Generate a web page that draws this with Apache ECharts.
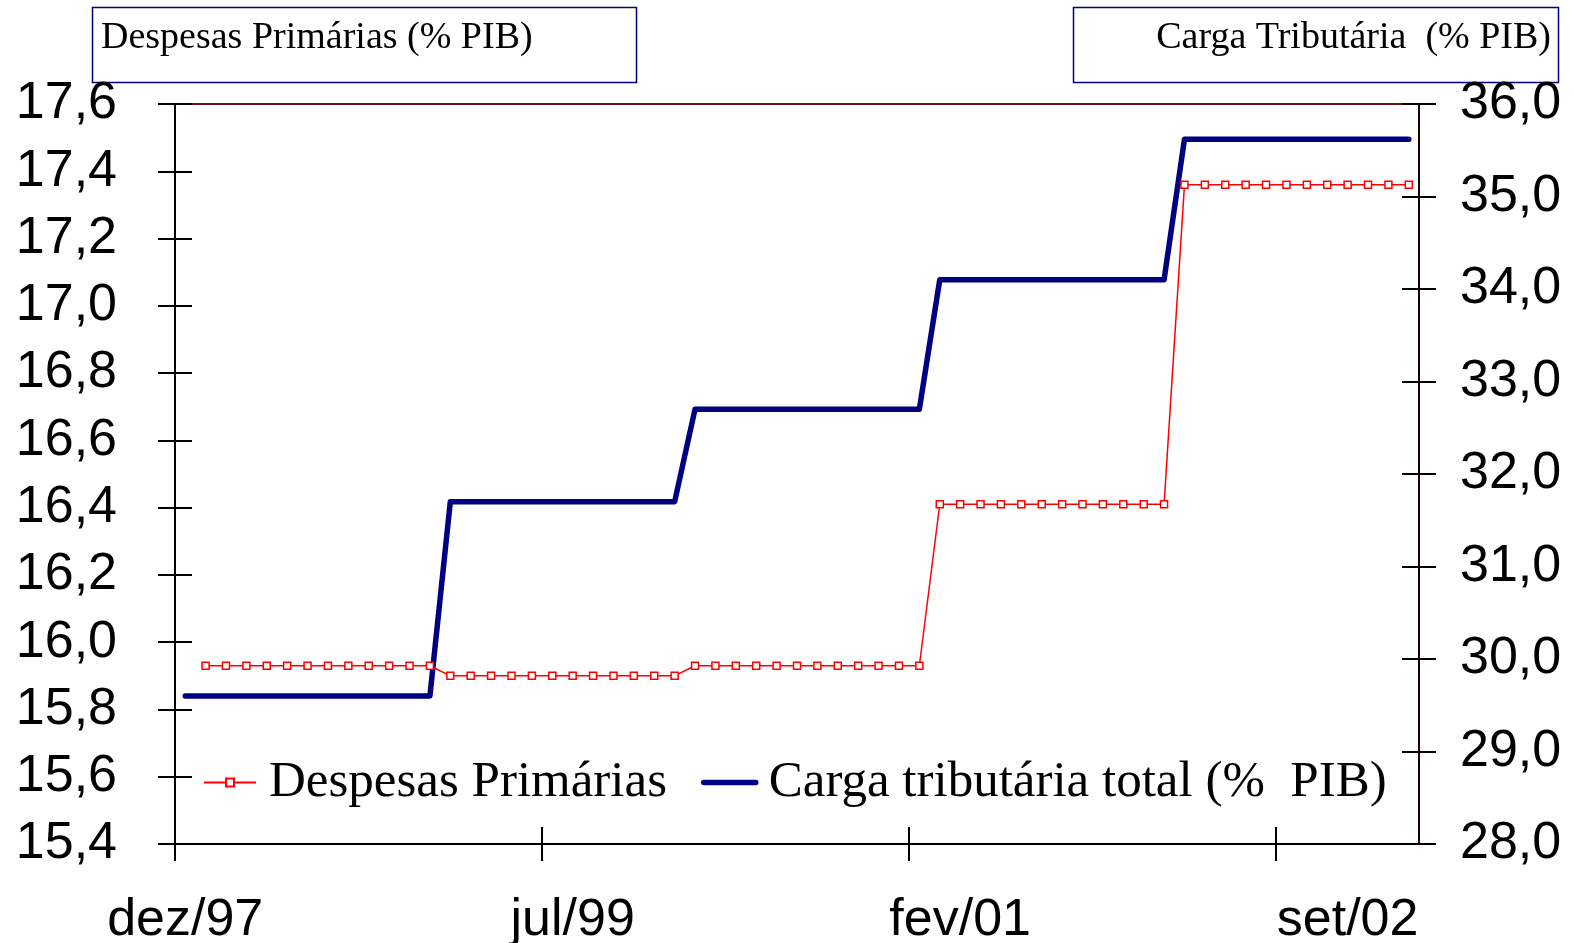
<!DOCTYPE html>
<html><head><meta charset="utf-8">
<script src="https://cdn.jsdelivr.net/npm/echarts@6/dist/echarts.min.js"></script>
<style>html,body{margin:0;padding:0;background:#fff}#c{width:1574px;height:943px}</style>
</head><body><div id="c"></div>
<script>
const categories = [
  'dez/97',
  'jan/98','fev/98','mar/98','abr/98','mai/98','jun/98','jul/98','ago/98','set/98','out/98','nov/98','dez/98',
  'jan/99','fev/99','mar/99','abr/99','mai/99','jun/99','jul/99','ago/99','set/99','out/99','nov/99','dez/99',
  'jan/00','fev/00','mar/00','abr/00','mai/00','jun/00','jul/00','ago/00','set/00','out/00','nov/00','dez/00',
  'jan/01','fev/01','mar/01','abr/01','mai/01','jun/01','jul/01','ago/01','set/01','out/01','nov/01','dez/01',
  'jan/02','fev/02','mar/02','abr/02','mai/02','jun/02','jul/02','ago/02','set/02','out/02','nov/02','dez/02'
];
const despesasPrimarias = [
  null,
  15.93,15.93,15.93,15.93,15.93,15.93,15.93,15.93,15.93,15.93,15.93,15.93,
  15.90,15.90,15.90,15.90,15.90,15.90,15.90,15.90,15.90,15.90,15.90,15.90,
  15.93,15.93,15.93,15.93,15.93,15.93,15.93,15.93,15.93,15.93,15.93,15.93,
  16.41,16.41,16.41,16.41,16.41,16.41,16.41,16.41,16.41,16.41,16.41,16.41,
  17.36,17.36,17.36,17.36,17.36,17.36,17.36,17.36,17.36,17.36,17.36,17.36
];
const cargaTributaria = [
  29.6,
  29.6,29.6,29.6,29.6,29.6,29.6,29.6,29.6,29.6,29.6,29.6,29.6,
  31.7,31.7,31.7,31.7,31.7,31.7,31.7,31.7,31.7,31.7,31.7,31.7,
  32.7,32.7,32.7,32.7,32.7,32.7,32.7,32.7,32.7,32.7,32.7,32.7,
  34.1,34.1,34.1,34.1,34.1,34.1,34.1,34.1,34.1,34.1,34.1,34.1,
  35.62,35.62,35.62,35.62,35.62,35.62,35.62,35.62,35.62,35.62,35.62,35.62
];
const leftAxisRange = [15.4, 17.6, 0.2];
const rightAxisRange = [28, 36, 1];
const xTickCategories = [0, 18, 36, 54];
const xLabelEvery = 19;
const seriesNames = ['Despesas Primárias', 'Carga tributária total (%  PIB)'];
const leftTitle = 'Despesas Primárias (% PIB)';
const rightTitle = 'Carga Tributária  (% PIB)';

const chart = echarts.init(document.getElementById('c'));
const fmt = v => v.toFixed(1).replace('.', ',');
const sans = '"Liberation Sans", Arial, sans-serif';
const serif = '"Liberation Serif", "Times New Roman", serif';
const tickLen = 17;

function yAx(range, pos, showLabel, inside, lineColor, margin) {
  return {
    type: 'value', position: pos, min: range[0], max: range[1], interval: range[2],
    axisLine: { show: showLabel, onZero: false, lineStyle: { color: lineColor, width: 2 } },
    axisTick: { show: true, inside: inside, length: tickLen, lineStyle: { color: '#000', width: 2 } },
    axisLabel: { show: showLabel, formatter: fmt, color: '#000', fontFamily: sans, fontSize: 52, margin: margin },
    splitLine: { show: false }
  };
}
function xTickAx(inside) {
  return {
    type: 'value', position: 'bottom', min: 0, max: categories.length, interval: 18,
    axisLine: { show: false, onZero: false },
    axisLabel: { show: false },
    splitLine: { show: false },
    axisTick: { show: true, inside: inside, length: tickLen, customValues: xTickCategories, lineStyle: { color: '#000', width: 2 } }
  };
}

chart.setOption({
  animation: false,
  backgroundColor: '#fff',
  grid: { left: 175, top: 104, width: 1244, height: 740, outerBoundsMode: 'none', containLabel: false, show: true, borderColor: '#6b1414', borderWidth: 2, backgroundColor: 'transparent' },
  xAxis: [
    {
      type: 'category', data: categories, boundaryGap: true, position: 'bottom',
      axisLine: { show: true, onZero: false, lineStyle: { color: '#000', width: 2 } },
      axisTick: { show: false },
      axisLabel: { interval: xLabelEvery - 1, color: '#000', fontFamily: sans, fontSize: 52, margin: 51 },
      splitLine: { show: false }
    },
    xTickAx(true),
    xTickAx(false)
  ],
  yAxis: [
    yAx(leftAxisRange, 'left', true, false, '#000', 58),
    yAx(rightAxisRange, 'right', true, false, '#1a0000', 41),
    yAx(leftAxisRange, 'left', false, true, '#000', 0),
    yAx(rightAxisRange, 'right', false, true, '#000', 0)
  ],
  legend: {
    left: 203, top: 757, padding: 0, itemGap: 34, itemWidth: 52, itemHeight: 10,
    selectedMode: false,
    textStyle: { fontFamily: serif, fontSize: 51, color: '#000', padding: [0, 0, 0, 8] },
    data: [
      { name: seriesNames[0] },
      { name: seriesNames[1], itemStyle: { opacity: 0 }, lineStyle: { width: 5.5, color: '#000080' } }
    ]
  },
  series: [
    {
      name: seriesNames[0], type: 'line', data: despesasPrimarias, xAxisIndex: 0, yAxisIndex: 0,
      symbol: 'rect', symbolSize: 7, showAllSymbol: true,
      lineStyle: { color: '#ff0000', width: 1.5 },
      itemStyle: { color: '#fff', borderColor: '#ff0000', borderWidth: 1.5 },
      z: 3
    },
    {
      name: seriesNames[1], type: 'line', data: cargaTributaria, xAxisIndex: 0, yAxisIndex: 1,
      symbol: 'none', showSymbol: false,
      lineStyle: { color: '#000080', width: 5.5, cap: 'round', join: 'round' },
      itemStyle: { color: '#000080' },
      z: 2
    }
  ],
  graphic: [
    { type: 'rect', shape: { x: 92.5, y: 7.5, width: 544, height: 75 }, style: { fill: '#fff', stroke: '#000080', lineWidth: 1.5 } },
    { type: 'text', x: 101, y: 38, style: { text: leftTitle, font: '38px ' + serif, fill: '#000', verticalAlign: 'middle', align: 'left' } },
    { type: 'rect', shape: { x: 1073.5, y: 7.5, width: 485, height: 75 }, style: { fill: '#fff', stroke: '#000080', lineWidth: 1.5 } },
    { type: 'text', x: 1551, y: 38, style: { text: rightTitle, font: '38px ' + serif, fill: '#000', verticalAlign: 'middle', align: 'right' } }
  ]
});
</script></body></html>
